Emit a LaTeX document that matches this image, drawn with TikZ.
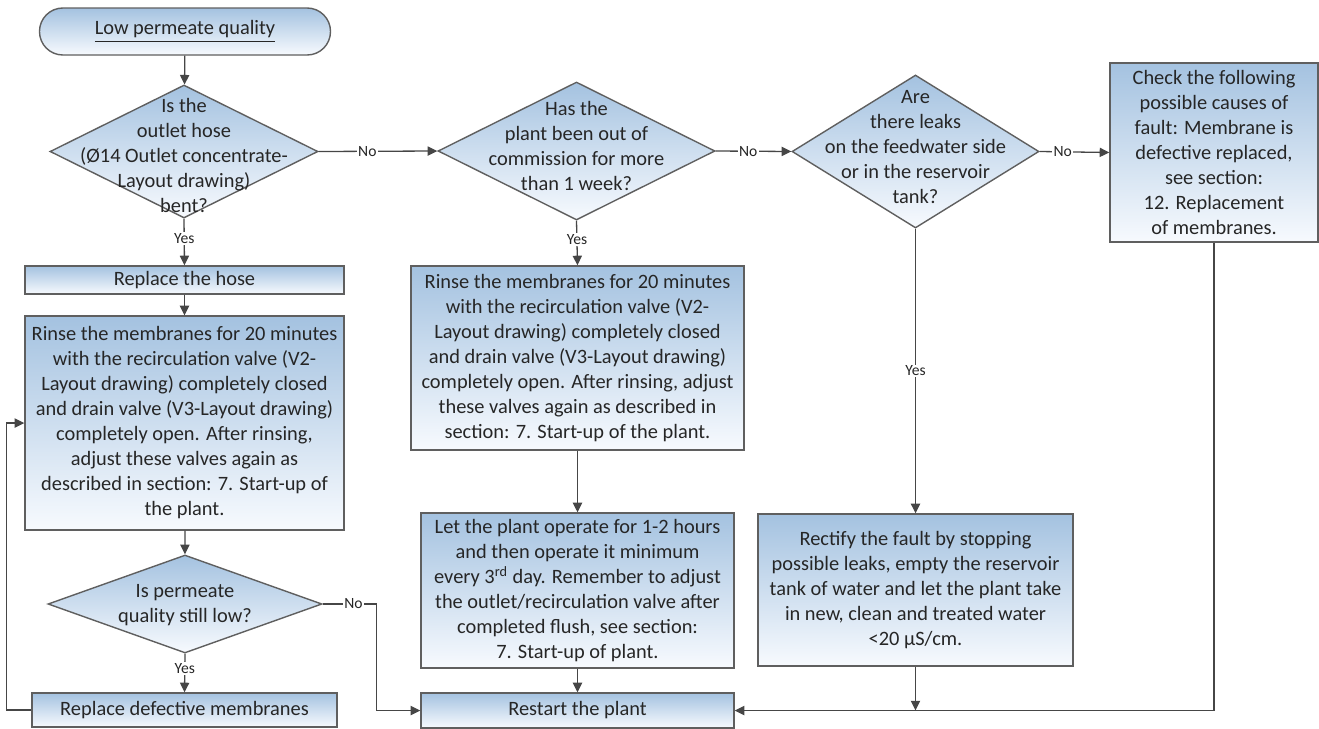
\documentclass[tikz,border=0pt]{standalone}
\usepackage{fontspec}
\setmainfont{Carlito}
\usetikzlibrary{shapes.geometric,arrows.meta}

\definecolor{boxtop}{RGB}{164,194,224}
\definecolor{boxbot}{RGB}{247,250,254}
\definecolor{edgegray}{RGB}{95,95,95}
\definecolor{linegray}{RGB}{70,70,70}
\definecolor{txtgray}{RGB}{38,38,38}

\tikzset{
  flow/.style={draw=edgegray, line width=0.7pt, top color=boxtop, bottom color=boxbot,
    inner sep=0pt, text=txtgray, align=center, font=\fontsize{10.2}{12.5}\selectfont},
  procbox/.style={flow, rectangle},
  decision/.style={flow, diamond},
  terminal/.style={flow, rectangle, rounded corners=11.7pt},
  dtext/.style={inner sep=0pt, text=txtgray, align=center, font=\fontsize{10.2}{12.5}\selectfont},
  conn/.style={draw=linegray, line width=0.65pt, -{Triangle[length=4.8pt,width=4.6pt]}},
  plain/.style={draw=linegray, line width=0.65pt},
  lbl/.style={fill=white, inner sep=0.7pt, text=txtgray, font=\fontsize{7.8}{9}\selectfont}
}

\begin{document}
\begin{tikzpicture}[x=0.5pt, y=-0.5pt]
\useasboundingbox (0,0) rectangle (1319,729);

% left column
\node[terminal, minimum width=145.5pt, minimum height=23.5pt] (start) at (185,31.5)
  {\underline{Low permeate quality}};
\node[decision, minimum width=134pt, minimum height=66.5pt] (d1) at (184,151.5) {};
\node[dtext] (d1t) at (184,155) {Is the\\outlet hose\\(Ø14 Outlet concentrate-\\Layout drawing)\\bent?};
\node[procbox, minimum width=159.5pt, minimum height=14pt] (hose) at (184.5,280) {Replace the hose};
\node[procbox, minimum width=159.5pt, minimum height=107pt] (rinse1) at (184.5,423)
  {Rinse the membranes for 20 minutes\\with the recirculation valve (V2-\\Layout drawing) completely closed\\and drain valve (V3-Layout drawing)\\completely open. After rinsing,\\adjust these valves again as\\described in section: 7. Start-up of\\the plant.};
\node[decision, minimum width=137pt, minimum height=49pt] (d4) at (185,604) {};
\node[dtext] (d4t) at (185,605.5) {Is permeate\\quality still low?};
\node[procbox, minimum width=152.5pt, minimum height=17pt] (defect) at (184.5,710) {Replace defective membranes};

% middle column
\node[decision, minimum width=138.5pt, minimum height=69pt] (d2) at (576.5,151) {};
\node[dtext] (d2t) at (576.5,146) {Has the\\plant been out of\\commission for more\\than 1 week?};
\node[procbox, minimum width=166.5pt, minimum height=92pt] (rinse2) at (577.5,358)
  {Rinse the membranes for 20 minutes\\with the recirculation valve (V2-\\Layout drawing) completely closed\\and drain valve (V3-Layout drawing)\\completely open. After rinsing, adjust\\these valves again as described in\\section: 7. Start-up of the plant.};
\node[procbox, minimum width=156.5pt, minimum height=77.5pt] (let) at (577.5,590.5)
  {Let the plant operate for 1-2 hours\\and then operate it minimum\\every 3\textsuperscript{rd} day. Remember to adjust\\the outlet/recirculation valve after\\completed flush, see section:\\7. Start-up of plant.};
\node[procbox, minimum width=156.5pt, minimum height=17.5pt] (restart) at (577.5,710.5) {Restart the plant};

% right columns
\node[decision, minimum width=123.5pt, minimum height=76.5pt] (d3) at (915.5,151.5) {};
\node[dtext] (d3t) at (915.5,147) {Are\\there leaks\\on the feedwater side\\or in the reservoir\\tank?};
\node[procbox, minimum width=104pt, minimum height=89.5pt] (check) at (1214,152.5)
  {Check the following\\possible causes of\\fault: Membrane is\\defective replaced,\\see section:\\12. Replacement\\of membranes.};
\node[procbox, minimum width=157.5pt, minimum height=76pt] (rectify) at (915.5,590)
  {Rectify the fault by stopping\\possible leaks, empty the reservoir\\tank of water and let the plant take\\in new, clean and treated water\\<20 µS/cm.};
\coordinate (join) at (rectify.south |- restart.east);

% connectors
\draw[conn] (start) -- (d1);
\draw[conn] (d1.south) -- node[lbl, pos=0.42] {Yes} (hose.north);
\draw[conn] (hose) -- (rinse1);
\draw[conn] (rinse1) -- (d4.north);
\draw[conn] (d4.south) -- node[lbl, pos=0.38] {Yes} (defect.north);
\draw[conn] (defect.west) -- ++(-25,0) |- (rinse1.west);
\draw[conn] (d4.east) -- node[lbl, pos=0.57] {No} ++(54,0) |- (restart.west);

\draw[conn] (d1.east) -- node[lbl, pos=0.41] {No} (d2.west);
\draw[conn] (d2.south) -- node[lbl, pos=0.43] {Yes} (rinse2.north);
\draw[conn] (rinse2) -- (let);
\draw[conn] (let) -- (restart);

\draw[conn] (d2.east) -- node[lbl, pos=0.43] {No} (d3.west);
\draw[conn] (d3.east) -- node[lbl, pos=0.33] {No} (check.west);
\draw[conn] (d3.south) -- node[lbl, pos=0.5] {Yes} (rectify.north);
\draw[conn] (rectify.south) -- (join);
\draw[conn] (check.south) |- (restart.east);
\end{tikzpicture}
\end{document}
